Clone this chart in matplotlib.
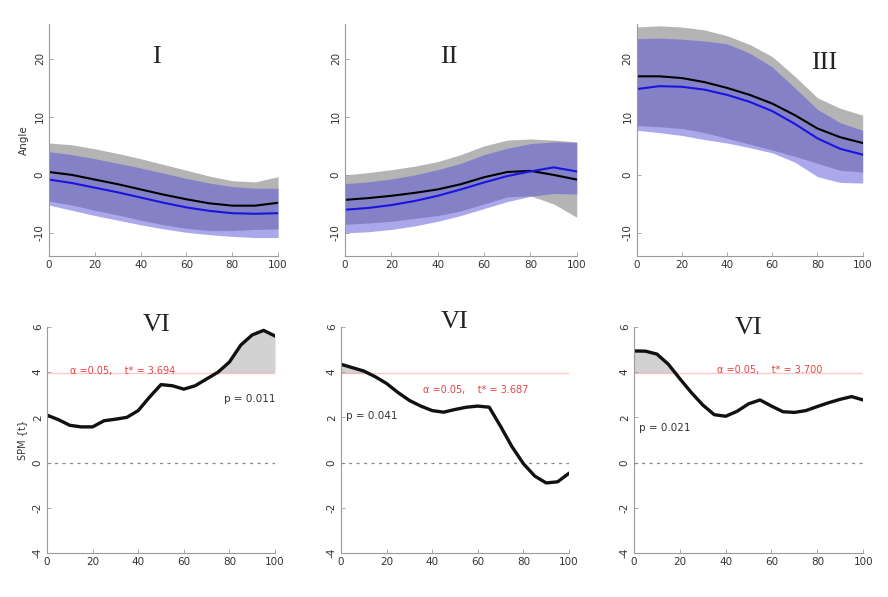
import numpy as np
import matplotlib
matplotlib.use("Agg")
import matplotlib.pyplot as plt

plt.rcParams["axes.unicode_minus"] = False

# ---------------- data ----------------
x_top = [0, 10, 20, 30, 40, 50, 60, 70, 80, 90, 100]

# Panel I
I_black = [0.5, 0.0, -0.8, -1.6, -2.5, -3.4, -4.2, -4.9, -5.3, -5.3, -4.8]
I_blue = [-0.8, -1.4, -2.2, -3.0, -3.9, -4.8, -5.6, -6.2, -6.6, -6.7, -6.6]
I_gray_hi = [5.5, 5.2, 4.5, 3.7, 2.8, 1.8, 0.8, -0.2, -1.0, -1.2, -0.3]
I_gray_lo = [-4.5, -5.2, -6.1, -6.9, -7.8, -8.6, -9.2, -9.6, -9.6, -9.4, -9.3]
I_blue_hi = [4.0, 3.5, 2.8, 2.0, 1.2, 0.3, -0.6, -1.4, -2.0, -2.3, -2.3]
I_blue_lo = [-5.2, -6.1, -7.0, -7.8, -8.6, -9.3, -9.9, -10.3, -10.6, -10.8, -10.8]

# Panel II
II_black = [-4.3, -4.0, -3.6, -3.1, -2.5, -1.6, -0.4, 0.5, 0.7, 0.0, -0.8]
II_blue = [-6.0, -5.7, -5.2, -4.5, -3.6, -2.5, -1.3, -0.2, 0.6, 1.3, 0.6]
II_gray_hi = [0.0, 0.4, 0.9, 1.5, 2.3, 3.5, 5.0, 6.0, 6.2, 6.0, 5.7]
II_gray_lo = [-8.5, -8.3, -8.0, -7.5, -7.0, -6.2, -5.0, -3.8, -3.6, -5.0, -7.3]
II_blue_hi = [-1.5, -1.2, -0.7, 0.0, 0.9, 2.0, 3.5, 4.6, 5.4, 5.7, 5.6]
II_blue_lo = [-10.0, -9.8, -9.4, -8.8, -8.0, -7.0, -5.8, -4.6, -3.7, -3.2, -3.3]

# Panel III
III_black = [17.0, 17.0, 16.7, 16.0, 15.0, 13.8, 12.3, 10.3, 8.0, 6.5, 5.5]
III_blue = [14.8, 15.3, 15.2, 14.7, 13.8, 12.6, 11.0, 8.8, 6.3, 4.5, 3.5]
III_gray_hi = [25.5, 25.7, 25.5, 25.0, 24.0, 22.5, 20.4, 17.0, 13.3, 11.5, 10.3]
III_gray_lo = [8.5, 8.3, 8.0, 7.3, 6.3, 5.3, 4.3, 3.2, 2.0, 0.8, 0.5]
III_blue_hi = [23.5, 23.6, 23.4, 23.1, 22.6, 21.0, 18.6, 15.0, 11.3, 9.0, 7.7]
III_blue_lo = [7.7, 7.3, 6.8, 6.1, 5.5, 4.7, 3.8, 2.2, -0.3, -1.3, -1.4]

top_titles = ["I", "II", "III"]

# SPM curves
x_spm = [0, 5, 10, 15, 20, 25, 30, 35, 40, 45, 50, 55, 60, 65, 70, 75, 80, 85, 90, 95, 100]
spm1 = [2.1, 1.9, 1.65, 1.58, 1.58, 1.85, 1.92, 2.0, 2.3, 2.9, 3.45, 3.4, 3.25, 3.4, 3.7, 4.0,
        4.45, 5.2, 5.65, 5.85, 5.6]
spm2 = [4.35, 4.2, 4.05, 3.8, 3.5, 3.1, 2.75, 2.5, 2.3, 2.23, 2.35, 2.45, 2.5, 2.45, 1.6, 0.7,
        -0.05, -0.6, -0.9, -0.85, -0.47]
spm3 = [4.94, 4.93, 4.8, 4.35, 3.71, 3.1, 2.55, 2.12, 2.05, 2.27, 2.6, 2.77, 2.5, 2.25, 2.22,
        2.3, 2.48, 2.65, 2.8, 2.92, 2.77]
tstar_labels = ["3.694", "3.687", "3.700"]
thresholds = [3.97, 3.95, 3.97]
p_labels = ["p = 0.011", "p = 0.041", "p = 0.021"]
bottom_titles = ["VI", "VI", "VI"]

# ---------------- style ----------------
GRAY = "#b4b4b4"
BLUE_BAND = "#5850d8"
BLUE_LINE = "#1a14e0"
SPINE = "#9a9a9a"
TXT = "#333333"

fig = plt.figure(figsize=(8.88, 5.97), dpi=100)

top_pos = [[0.0552, 0.571, 0.258, 0.3886],
           [0.3885, 0.571, 0.261, 0.3886],
           [0.717, 0.571, 0.2545, 0.3886]]
bot_pos = [[0.0529, 0.0737, 0.2568, 0.3786],
           [0.384, 0.0737, 0.2568, 0.3786],
           [0.714, 0.0737, 0.258, 0.3786]]


def style_axes(ax):
    for s in ["top", "right"]:
        ax.spines[s].set_visible(False)
    for s in ["left", "bottom"]:
        ax.spines[s].set_color(SPINE)
        ax.spines[s].set_linewidth(0.8)
    ax.tick_params(direction="in", length=3, width=0.6, color=SPINE,
                   labelsize=7.5, labelcolor=TXT, pad=3)
    for lab in ax.get_yticklabels():
        lab.set_rotation(90)
        lab.set_va("center")


top_data = [
    (I_black, I_blue, I_gray_hi, I_gray_lo, I_blue_hi, I_blue_lo),
    (II_black, II_blue, II_gray_hi, II_gray_lo, II_blue_hi, II_blue_lo),
    (III_black, III_blue, III_gray_hi, III_gray_lo, III_blue_hi, III_blue_lo),
]
title_xy_top = [(47, 20.3), (45, 20.3), (83, 19.3)]

for i, (blk, blu, ghi, glo, bhi, blo) in enumerate(top_data):
    ax = fig.add_axes(top_pos[i])
    ax.fill_between(x_top, glo, ghi, color=GRAY, lw=0)
    ax.fill_between(x_top, blo, bhi, color=BLUE_BAND, alpha=0.5, lw=0)
    ax.plot(x_top, blk, color="black", lw=1.5)
    ax.plot(x_top, blu, color=BLUE_LINE, lw=1.5)
    ax.set_xlim(0, 100)
    ax.set_ylim(-14, 26)
    ax.set_xticks([0, 20, 40, 60, 80, 100])
    ax.set_yticks([-10, 0, 10, 20])
    style_axes(ax)
    tx, ty = title_xy_top[i]
    ax.text(tx, ty, top_titles[i], fontsize=19, family="Liberation Serif",
            ha="center", va="center", color="#222222")
    if i == 0:
        ax.set_ylabel("Angle", fontsize=7.5, color=TXT, labelpad=4)

spm_all = [spm1, spm2, spm3]
red_xy = [(10, 4.05), (36, 3.2), (36, 4.1)]
p_xy = [(100, 2.8, "right"), (2, 2.05, "left"), (2, 1.55, "left")]
title_xy_bot = [(48, 6.1), (50, 6.2), (50, 5.95)]

for i, t in enumerate(spm_all):
    ax = fig.add_axes(bot_pos[i])
    thr = thresholds[i]
    t_arr = np.array(t)
    ax.fill_between(x_spm, thr, t, where=t_arr >= thr, interpolate=True,
                    color="#d2d2d2", lw=0)
    ax.axhline(thr, color="#ff8a8a", lw=1.0, alpha=0.45)
    ax.axhline(0, color="#8a8a8a", lw=0.9, ls=(0, (2.5, 3.5)))
    ax.plot(x_spm, t, color="#111111", lw=2.4, solid_capstyle="round")
    ax.set_xlim(0, 100)
    ax.set_ylim(-4, 6)
    ax.set_xticks([0, 20, 40, 60, 80, 100])
    ax.set_yticks([-4, -2, 0, 2, 4, 6])
    style_axes(ax)
    rx, ry = red_xy[i]
    ax.text(rx, ry, "α =0.05,    t* = " + tstar_labels[i], fontsize=7,
            color="#e84545", ha="left", va="center")
    px, py, pha = p_xy[i]
    ax.text(px, py, p_labels[i], fontsize=7.5, color=TXT, ha=pha, va="center")
    tx, ty = title_xy_bot[i]
    ax.text(tx, ty, bottom_titles[i], fontsize=19, family="Liberation Serif",
            ha="center", va="center", color="#222222", clip_on=False)
    if i == 0:
        ax.set_ylabel("SPM {t}", fontsize=7, color=TXT, labelpad=4)

fig.savefig("out.png", dpi=100)
